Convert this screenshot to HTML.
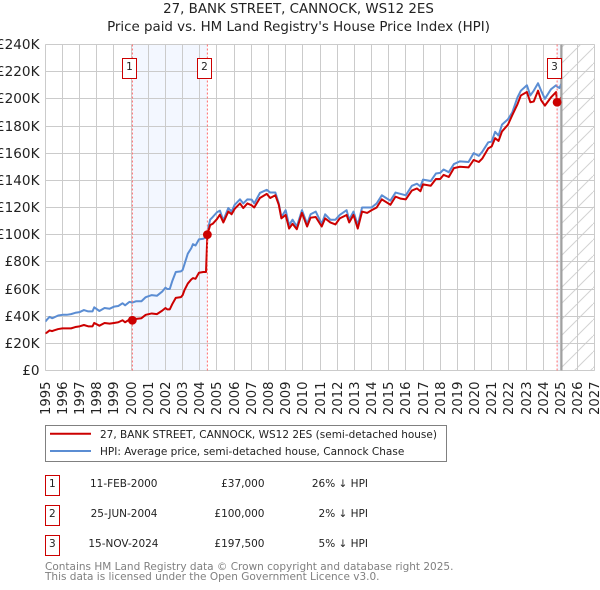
<!DOCTYPE html>
<html lang="en">
<head>
<meta charset="utf-8">
<title>27, BANK STREET, CANNOCK, WS12 2ES</title>
<style>
html,body{margin:0;padding:0;background:#fff;width:600px;height:590px;overflow:hidden}
svg{display:block;font-family:"DejaVu Sans","Liberation Sans",sans-serif}
</style>
</head>
<body>
<svg id="chart" width="600" height="590" viewBox="0 0 600 590" xmlns="http://www.w3.org/2000/svg">
<defs>
<pattern id="hatch" width="16" height="16" patternUnits="userSpaceOnUse" patternTransform="translate(1 0)">
<path d="M-2 18 L18 -2" stroke="#d2d2d2" stroke-width="1" fill="none"/>
</pattern>
<clipPath id="plot-clip"><rect x="45.5" y="44" width="549" height="326.5"/></clipPath>
</defs>
<text x="298.5" y="13" font-size="13.4" text-anchor="middle" fill="#222">27, BANK STREET, CANNOCK, WS12 2ES</text>
<text x="298.5" y="31" font-size="13.4" text-anchor="middle" fill="#222">Price paid vs. HM Land Registry's House Price Index (HPI)</text>
<g id="bands"></g>
<g id="grid"></g>
<g id="ticks"></g>
<g id="series" clip-path="url(#plot-clip)"></g>
<g id="events"></g>

<g>
<rect x="45.5" y="425.5" width="401" height="36" fill="#fff" stroke="#808080" stroke-width="1"/>
<line x1="50" x2="91" y1="433.7" y2="433.7" stroke="#cc0000" stroke-width="2"/>
<text x="100" y="438" font-size="10.5" fill="#222">27, BANK STREET, CANNOCK, WS12 2ES (semi-detached house)</text>
<line x1="50" x2="91" y1="451" y2="451" stroke="#5b8dd3" stroke-width="2"/>
<text x="100" y="455" font-size="10.5" fill="#222">HPI: Average price, semi-detached house, Cannock Chase</text>
</g>

<g font-size="10.5" fill="#222">
<g>
<rect x="45.5" y="475.5" width="14" height="20" fill="#fff" stroke="#cc0000" stroke-width="1"/>
<text x="52.3" y="487" text-anchor="middle">1</text>
<text x="157.5" y="487" text-anchor="end">11-FEB-2000</text>
<text x="264.5" y="487" text-anchor="end">£37,000</text>
<text x="368" y="487" text-anchor="end">26% ↓ HPI</text>
</g>
<g>
<rect x="45.5" y="505.5" width="14" height="20" fill="#fff" stroke="#cc0000" stroke-width="1"/>
<text x="52.3" y="517" text-anchor="middle">2</text>
<text x="157.5" y="517" text-anchor="end">25-JUN-2004</text>
<text x="264.5" y="517" text-anchor="end">£100,000</text>
<text x="368" y="517" text-anchor="end">2% ↓ HPI</text>
</g>
<g>
<rect x="45.5" y="535.5" width="14" height="20" fill="#fff" stroke="#cc0000" stroke-width="1"/>
<text x="52.3" y="547" text-anchor="middle">3</text>
<text x="158.5" y="547" text-anchor="end">15-NOV-2024</text>
<text x="264.5" y="547" text-anchor="end">£197,500</text>
<text x="368" y="547" text-anchor="end">5% ↓ HPI</text>
</g>
</g>
<text x="45" y="570" font-size="10.5" fill="#808080">Contains HM Land Registry data © Crown copyright and database right 2025.</text>
<text x="45" y="580" font-size="10.5" fill="#808080">This data is licensed under the Open Government Licence v3.0.</text>
</svg>
<script>
const yearTicks = [1995,1996,1997,1998,1999,2000,2001,2002,2003,2004,2005,2006,2007,2008,2009,2010,2011,2012,2013,2014,2015,2016,2017,2018,2019,2020,2021,2022,2023,2024,2025,2026,2027];
const priceTicks = [0,20,40,60,80,100,120,140,160,180,200,220,240];
const priceTickLabels = ['£0','£20K','£40K','£60K','£80K','£100K','£120K','£140K','£160K','£180K','£200K','£220K','£240K'];
const dates = [1995,1995.1,1995.25,1995.4,1995.5,1995.75,1996,1996.25,1996.5,1996.75,1997,1997.25,1997.5,1997.75,1997.85,1998.15,1998.45,1998.75,1999,1999.25,1999.5,1999.65,1999.9,2000.07,2000.3,2000.6,2000.85,2001.2,2001.5,2001.8,2002,2002.1,2002.25,2002.4,2002.6,2002.9,2003,2003.1,2003.3,2003.5,2003.6,2003.75,2003.95,2004.2,2004.36,2004.44,2004.6,2004.75,2005,2005.17,2005.37,2005.66,2005.85,2006.03,2006.34,2006.53,2006.77,2007.02,2007.17,2007.5,2007.9,2008.1,2008.4,2008.6,2008.75,2009,2009.2,2009.4,2009.65,2009.95,2010.25,2010.45,2010.75,2011.1,2011.3,2011.6,2011.9,2012.15,2012.55,2012.7,2012.95,2013.2,2013.45,2013.75,2014,2014.3,2014.6,2014.85,2015.1,2015.4,2015.7,2016,2016.35,2016.65,2016.85,2017,2017.45,2017.75,2018,2018.2,2018.5,2018.8,2019.15,2019.65,2019.95,2020.25,2020.45,2020.8,2021,2021.2,2021.4,2021.6,2021.95,2022.2,2022.5,2022.7,2023.05,2023.25,2023.45,2023.7,2023.88,2024.1,2024.45,2024.75,2024.81,2024.95,2025.05];
const hpiValues = [36,37.5,39.5,38.5,39,40.5,41,41,41.5,42.5,43,44.5,43.5,43.5,46.5,43.8,46,45.5,47,47.5,49.5,48,50.5,50,51,51,54,55.5,55,58,61,60,60,66,72.5,73,74,78,86,90,93,92,96.5,97,98,102,111,113,116.5,117.7,110.5,119.6,117,122,126,123,126,125.8,123,130.7,133,131,131,123,113,118,107,111,106,118,108,115,117,108,115,111,111,114.5,118,111,117,107,120,120,120,123,129,127,125,131,130,129,136,137.5,135.5,140.5,139.5,145,145.5,148,146,152,154,153.5,160,158,161,168,168.5,175.7,173,181,185,190,201,206,210,202.5,206,211.5,206,200,207,210,209,208,211];
const paidValues = [27.3,28,29.5,29,29.5,30.5,31,31,31,32,32.5,33.5,32.5,32.5,35,33,35,34.5,35,35.5,37,35.5,37.5,37,38,38.5,41,42,41.5,44,46,45,45,49,53.5,54,55.5,59,64,67,68,67.5,72,72.5,72.5,100,107,108,111.5,114.7,109,117,115,119,123,119.6,123,121.6,120,127,130,127,129,122,112,114.5,104.5,108,104,116,106,112.5,113,106,112,109,107.5,112,114.5,109,114.5,104.5,117,116,118,120,126,124,122,128,126.5,126,132.5,134,132,137,136,141,141,144,142.5,149,150,149.5,155,153.5,156,163.5,165,171,169,176,181,188,196,202.5,205,197.5,198,206,199,195,201,205,197.5,199,201];
const saleDates = [2000.07,2004.44,2024.81];
const saleValues = [37,100,197.5];
const saleLabels = ['1','2','3'];
const forecastStart = 2025.05;

const NS = 'http://www.w3.org/2000/svg';
const xLeft = 45.3, xRight = 594.7, yTop = 44.5, yBottom = 370.5;
function xScale(d){ return xLeft + (d - yearTicks[0]) / (yearTicks[yearTicks.length-1] - yearTicks[0]) * (xRight - xLeft); }
function yScale(v){ return yBottom - v / priceTicks[priceTicks.length-1] * (yBottom - yTop); }
function mk(parent, tag, attrs, txt){
  const el = document.createElementNS(NS, tag);
  for (const k in attrs) el.setAttribute(k, attrs[k]);
  if (txt !== undefined) el.textContent = txt;
  parent.appendChild(el);
  return el;
}
const gBands = document.getElementById('bands');
const gGrid = document.getElementById('grid');
const gTicks = document.getElementById('ticks');
const gSeries = document.getElementById('series');
const gEvents = document.getElementById('events');

const band12 = mk(gBands,'rect',{x:xScale(saleDates[0]),y:yTop,width:xScale(saleDates[1])-xScale(saleDates[0]),height:yBottom-yTop,fill:'#f3f7ff'});


const band3 = mk(gBands,'rect',{x:xScale(saleDates[2]),y:yTop,width:xScale(forecastStart)-xScale(saleDates[2]),height:yBottom-yTop,fill:'#f3f7ff'});


const hatchRect = mk(gBands,'rect',{x:xScale(forecastStart),y:yTop,width:xRight-xScale(forecastStart),height:yBottom-yTop,fill:'url(#hatch)'});



yearTicks.forEach(function(yr){
  const x = Math.round(xScale(yr) - 0.5) + 0.5;
  const line = mk(gGrid,'line',{x1:x,x2:x,y1:yTop,y2:yBottom,stroke:'#cbcbcb','stroke-width':1});
  
  
  const label = mk(gTicks,'text',{transform:'translate('+(x+4.5)+' 415) rotate(-90)','font-size':13.2,fill:'#222'},String(yr));
  
  
});
priceTicks.forEach(function(v,i){
  const y = Math.round(yScale(v) - 0.5) + 0.5;
  const line = mk(gGrid,'line',{x1:xLeft,x2:xRight,y1:y,y2:y,stroke:'#cbcbcb','stroke-width':1});
  
  
  const label = mk(gTicks,'text',{x:39.5,y:y+4.5,'font-size':13.6,'text-anchor':'end',fill:'#222'},priceTickLabels[i]);
  
  
});

function linePath(values){
  return values.map(function(v,i){ return (i?'L':'M') + xScale(dates[i]).toFixed(2) + ' ' + yScale(v).toFixed(2); }).join(' ');
}
const hpiLine = mk(gSeries,'path',{d:linePath(hpiValues),fill:'none',stroke:'#5b8dd3','stroke-width':2,'stroke-linejoin':'round'});


const paidLine = mk(gSeries,'path',{d:linePath(paidValues),fill:'none',stroke:'#cc0000','stroke-width':2,'stroke-linejoin':'round'});



const nowLine = mk(gEvents,'line',{x1:xScale(forecastStart)+0.3,x2:xScale(forecastStart)+0.3,y1:yTop,y2:yBottom,stroke:'#a0a0a0','stroke-width':2});



saleDates.forEach(function(d,i){
  const x = xScale(d), y = yScale(saleValues[i]);
  const vline = mk(gEvents,'line',{x1:x,x2:x,y1:yTop,y2:yBottom,stroke:'#ff6b6b','stroke-width':1,'stroke-dasharray':'2 2'});
  
  
  const dot = mk(gEvents,'circle',{cx:x,cy:y,r:4.4,fill:'#cc0000'});
  
  
  const bx = Math.round(x) - 9.5;
  const box = mk(gEvents,'rect',{x:bx,y:58.5,width:14,height:20,fill:'#fff',stroke:'#cc0000','stroke-width':1});
  
  
  const label = mk(gEvents,'text',{x:bx+7,y:70,'font-size':10.5,'text-anchor':'middle',fill:'#222'},saleLabels[i]);
  
  
});
</script>
</body>
</html>
